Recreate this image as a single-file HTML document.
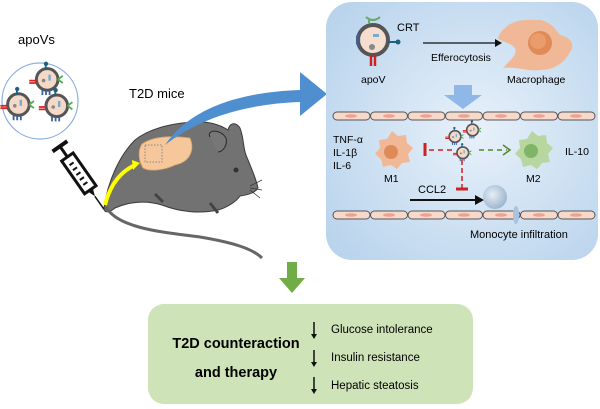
<!DOCTYPE html>
<html><head><meta charset="utf-8"><style>
body{margin:0;width:600px;height:409px;background:#fff;overflow:hidden}
svg{display:block}
text{font-family:"Liberation Sans",sans-serif}
</style></head><body>
<svg width="600" height="409" viewBox="0 0 600 409" xmlns="http://www.w3.org/2000/svg">
<defs>
<radialGradient id="pg" cx="0.55" cy="0.5" r="0.7"><stop offset="0" stop-color="#e8f1fa"/><stop offset="1" stop-color="#b8d3ec"/></radialGradient>
<radialGradient id="mono" cx="0.4" cy="0.4" r="0.6"><stop offset="0" stop-color="#e6eef6"/><stop offset="1" stop-color="#9fb8d0"/></radialGradient>
<g id="vs">
<circle r="9" fill="#f5d9c8" stroke="#555" stroke-width="2.5"/>
<rect x="-2" y="-12" width="1.5" height="4" fill="#1d6080"/><circle cx="-1" cy="-13" r="1.8" fill="#1d6080"/>
<path d="M-15,1 h6 M-15,3 h6" stroke="#d22" stroke-width="1.5"/>
<path d="M9,0 l4,-3 M9,0 l4,3" stroke="#5a5" stroke-width="1.5" fill="none"/>
<path d="M-4,9 v4 M-1,9 v4 M2,9 v4" stroke="#3a5fa0" stroke-width="1.5"/>
<rect x="1" y="-4" width="2" height="5" fill="#7ac"/><circle cx="-3" cy="1" r="1.5" fill="#888"/>
</g>
<g id="cellrow">
<g fill="#f7d9cc" stroke="#555" stroke-width="1">
<rect x="0" y="0" width="37" height="8" rx="4"/><rect x="37.5" y="0" width="37" height="8" rx="4"/><rect x="75" y="0" width="37" height="8" rx="4"/><rect x="112.5" y="0" width="37" height="8" rx="4"/><rect x="150" y="0" width="37" height="8" rx="4"/><rect x="187.5" y="0" width="37" height="8" rx="4"/><rect x="225" y="0" width="37" height="8" rx="4"/>
</g>
<g fill="#f0a090"><ellipse cx="18" cy="4" rx="6" ry="1.8"/><ellipse cx="56" cy="4" rx="6" ry="1.8"/><ellipse cx="93" cy="4" rx="6" ry="1.8"/><ellipse cx="131" cy="4" rx="6" ry="1.8"/><ellipse cx="168" cy="4" rx="6" ry="1.8"/><ellipse cx="206" cy="4" rx="6" ry="1.8"/><ellipse cx="243" cy="4" rx="6" ry="1.8"/></g>
</g>
</defs>

<!-- left: apoVs -->
<text x="18" y="44" font-size="13">apoVs</text>
<circle cx="40" cy="101" r="38" fill="#fff" stroke="#8aaee0" stroke-width="1.2"/>
<g transform="translate(40,101) scale(1.2) translate(-40,-101)">
<use href="#vs" x="46" y="83"/>
<use href="#vs" x="22" y="104"/>
<use href="#vs" x="54" y="105"/>
</g>

<!-- syringe -->
<g transform="translate(80,175) rotate(-35)">
<rect x="-7" y="-22" width="14" height="40" fill="#fff" stroke="#111" stroke-width="3"/>
<path d="M-3,-14 h5 M-3,-8 h5 M-3,-2 h5 M-3,4 h5 M-3,10 h5" stroke="#111" stroke-width="2"/>
<rect x="-1.5" y="-34" width="3" height="12" fill="#111"/><rect x="-9" y="-37" width="18" height="4" fill="#111"/>
<path d="M-3,18 L0,26 L3,18Z" fill="#111"/><path d="M0,26 v16" stroke="#111" stroke-width="1.5"/>
</g>

<!-- mouse -->
<path d="M104,208 C108,180 120,155 135,140 C150,128 175,122 200,122 C212,122 222,126 228,130 C230,122 236,122 240,128 C244,138 243,148 246,155 C250,165 256,178 258,188 C255,193 248,195 240,196 C236,202 226,208 218,210 C200,214 180,212 162,205 C145,200 128,202 115,208 C110,212 104,214 104,208Z" fill="#727272" stroke="#3a3a3a" stroke-width="1"/>
<path d="M106,207 C118,228 160,232 200,237 C230,242 252,248 262,258" stroke="#666" stroke-width="3" fill="none"/>
<path d="M210,137 C206,130 220,128 226,138 C228,146 222,152 218,152" stroke="#2a2a2a" stroke-width="1" fill="#777"/>
<circle cx="236" cy="170" r="2.5" fill="#333"/>
<path d="M250,186 l12,-6 M250,188 l12,2 M250,190 l10,8" stroke="#333" stroke-width="0.7"/>
<path d="M155,194 l8,8 M210,203 l8,10" stroke="#444" stroke-width="3"/>
<path d="M142,144 C155,135 175,136 190,138 C195,150 190,162 175,165 C165,170 150,172 143,168 C138,160 138,150 142,144Z" fill="#f6c79a" stroke="#d9a060" stroke-width="0.8"/>
<rect x="145" y="145" width="17" height="17" fill="none" stroke="#888" stroke-dasharray="1.5 1.5"/>
<path d="M105,205 C110,185 120,172 135,165" stroke="#ffff00" stroke-width="4" fill="none"/>
<path d="M132,160 L140,163 L133,170Z" fill="#ffff00"/>
<text x="129" y="98" font-size="13">T2D mice</text>

<!-- big blue arrow -->
<path d="M165,145 C190,108 240,92 300,90 L300,72 L327,94 L300,116 L300,102 C245,104 200,118 165,145Z" fill="#4f8fd0"/>

<!-- right panel -->
<rect x="326" y="2" width="272" height="258" rx="26" fill="url(#pg)"/>
<g transform="translate(373,40)">
<circle r="15" fill="#f5ddd0" stroke="#555" stroke-width="4"/>
<path d="M-4,-17 v-3 M-7,-23 q7,6 14,0" stroke="#6a6" stroke-width="2" fill="none"/>
<path d="M15,2 h8" stroke="#1d6080" stroke-width="2"/><circle cx="25" cy="2" r="2.5" fill="#1d6080"/>
<path d="M-14,-6 q-4,3 0,6 q-4,3 0,6" stroke="#3a5fa0" stroke-width="2" fill="none"/>
<path d="M-2,16 v10 M2,16 v10" stroke="#c22" stroke-width="2.5"/>
<rect x="0" y="-6" width="6" height="3" fill="#7ac"/><circle cx="-1" cy="7" r="3" fill="#888"/>
</g>
<text x="397" y="31" font-size="11">CRT</text>
<path d="M423,43 h72" stroke="#111" stroke-width="1.3"/><path d="M495,39 L502,43 L495,47Z" fill="#111"/>
<text x="431" y="61" font-size="10.5">Efferocytosis</text>
<text x="361" y="83" font-size="10.5">apoV</text>
<path d="M505,28 C515,18 530,20 540,20 C550,22 555,28 560,35 C572,38 575,45 570,52 C565,62 555,70 540,70 C530,72 515,66 503,68 C510,60 518,55 515,48 C510,42 500,42 498,38 C500,33 502,30 505,28Z" fill="#f0b896"/>
<circle cx="540" cy="43" r="12" fill="#e08a58"/><circle cx="538" cy="41" r="8" fill="#ea9c6a"/>
<text x="507" y="83" font-size="10.5">Macrophage</text>
<path d="M454,85 h18 v10 h10 l-19,14 l-19,-14 h10Z" fill="#8fb8e8"/>
<use href="#cellrow" x="333" y="112"/>
<use href="#cellrow" x="333" y="211"/>
<text x="333" y="143" font-size="10.5">TNF-α</text>
<text x="333" y="156" font-size="10.5">IL-1β</text>
<text x="333" y="169" font-size="10.5">IL-6</text>
<path d="M392,131 l6,5 l8,-1 l1,8 l6,5 l-5,6 l2,8 l-8,1 l-5,6 l-6,-4 l-8,2 l-2,-8 l-6,-5 l5,-6 l-1,-8 l8,-1Z" fill="#f0b896"/>
<circle cx="391" cy="152" r="7" fill="#e08a58"/>
<text x="384" y="182" font-size="10.5">M1</text>
<path d="M425,143 v13" stroke="#c22" stroke-width="3"/>
<path d="M429,150 h26" stroke="#c22" stroke-width="1.5" stroke-dasharray="5 4"/>
<g transform="scale(0.65)"><use href="#vs" x="700" y="210"/><use href="#vs" x="727" y="200"/><use href="#vs" x="712" y="235"/></g>
<path d="M479,150 h28" stroke="#4f8a2a" stroke-width="1.5" stroke-dasharray="5 4"/>
<path d="M503,145 l7,5 l-7,5" stroke="#4f8a2a" stroke-width="1.5" fill="none"/>
<path d="M532,131 l6,5 l8,-1 l1,8 l6,5 l-5,6 l2,8 l-8,1 l-5,6 l-6,-4 l-8,2 l-2,-8 l-6,-5 l5,-6 l-1,-8 l8,-1Z" fill="#b7d6a0"/>
<circle cx="531" cy="151" r="7" fill="#7fb566"/>
<text x="526" y="182" font-size="10.5">M2</text>
<text x="565" y="155" font-size="10.5">IL-10</text>
<path d="M462,160 v28" stroke="#c22" stroke-width="1.5" stroke-dasharray="5 3"/>
<path d="M456,189 h12" stroke="#c22" stroke-width="3"/>
<text x="418" y="193" font-size="11">CCL2</text>
<path d="M410,200 h66" stroke="#111" stroke-width="2"/><path d="M475,195 L484,200 L475,205Z" fill="#111"/>
<circle cx="495" cy="197" r="12" fill="url(#mono)"/>
<ellipse cx="516" cy="215" rx="3" ry="9" fill="#a8c4de"/>
<text x="470" y="238" font-size="11">Monocyte  infiltration</text>

<path d="M287,262 h10 v16 h8 l-13,15 l-13,-15 h8Z" fill="#70ad47"/>

<rect x="148" y="304" width="325" height="100" rx="16" fill="#cfe3b8"/>
<text x="236" y="348" font-size="14.5" font-weight="bold" text-anchor="middle">T2D counteraction</text>
<text x="236" y="377" font-size="14.5" font-weight="bold" text-anchor="middle">and therapy</text>
<g stroke="#111" stroke-width="1.5"><path d="M314,322 v13 M314,350 v13 M314,377 v13"/></g>
<g fill="#111"><path d="M311,334 l3,5 l3,-5Z M311,362 l3,5 l3,-5Z M311,389 l3,5 l3,-5Z"/></g>
<text x="331" y="333" font-size="11.5">Glucose  intolerance</text>
<text x="331" y="361" font-size="11.5">Insulin  resistance</text>
<text x="331" y="389" font-size="11.5">Hepatic  steatosis</text>
</svg>
</body></html>
